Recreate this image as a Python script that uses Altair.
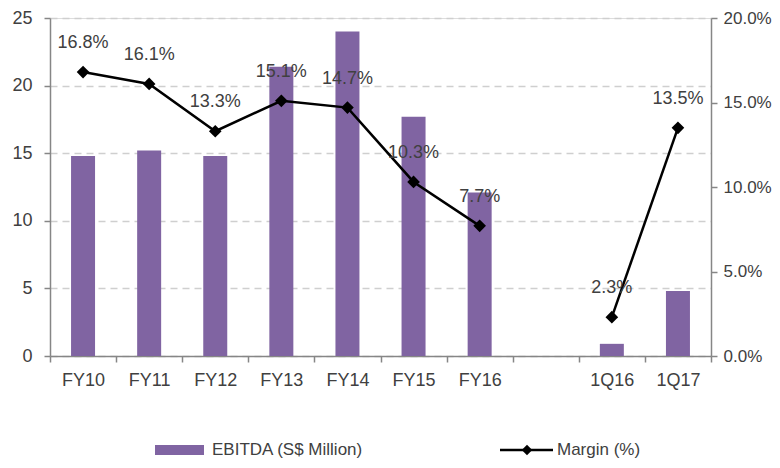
import altair as alt
import pandas as pd

categories = ["FY10", "FY11", "FY12", "FY13", "FY14", "FY15", "FY16", " ", "1Q16", "1Q17"]
periods = ["FY10", "FY11", "FY12", "FY13", "FY14", "FY15", "FY16", "1Q16", "1Q17"]
groups = ["FY", "FY", "FY", "FY", "FY", "FY", "FY", "Q", "Q"]
ebitda = [14.8, 15.2, 14.8, 21.4, 24.0, 17.7, 12.1, 0.9, 4.8]
margin_pct = [16.8, 16.1, 13.3, 15.1, 14.7, 10.3, 7.7, 2.3, 13.5]
left_ticks = [0, 5, 10, 15, 20, 25]
right_ticks = [0.0, 0.05, 0.10, 0.15, 0.20]

df = pd.DataFrame({
    "period": periods,
    "group": groups,
    "ebitda": ebitda,
    "margin": [m / 100 for m in margin_pct],
    "label": [f"{m:.1f}%" for m in margin_pct],
})

FONT = "Liberation Sans"
TXT = "#404040"
AX = "#868686"
W, H = 661, 338

xenc = alt.X(
    "period:N",
    scale=alt.Scale(domain=categories, paddingInner=0, paddingOuter=0),
    sort=categories,
    axis=alt.Axis(
        title=None, labelAngle=0, tickBand="extent",
        labelFont=FONT, labelFontSize=18, labelColor=TXT,
        domainColor=AX, tickColor=AX, tickSize=6, labelPadding=9,
        domainWidth=1.5, tickWidth=1.5,
    ),
)

bars = alt.Chart(df).mark_bar(size=24, color="#8064A2").encode(
    x=xenc,
    y=alt.Y(
        "ebitda:Q",
        scale=alt.Scale(domain=[0, 25], nice=False),
        axis=alt.Axis(
            title=None, values=left_ticks, grid=True, gridColor="#CFCFCF",
            gridDash=[7, 5], gridWidth=1.5, domainColor=AX, tickColor=AX,
            tickSize=6, domainWidth=1.5, tickWidth=1.5,
            labelFont=FONT, labelFontSize=18, labelColor=TXT, labelPadding=12,
        ),
    ),
)

yr = alt.Y(
    "margin:Q",
    scale=alt.Scale(domain=[0, 0.2], nice=False),
    axis=alt.Axis(
        title=None, orient="right", values=right_ticks, format=".1%",
        grid=False, domainColor=AX, tickColor=AX, tickSize=6,
        domainWidth=1.5, tickWidth=1.5,
        labelFont=FONT, labelFontSize=17, labelColor=TXT, labelPadding=6,
    ),
)

line = alt.Chart(df).mark_line(color="black", strokeWidth=2.5).encode(
    x=alt.X("period:N", sort=categories), y=yr, detail="group:N"
)
pts = alt.Chart(df).mark_point(
    shape="diamond", filled=True, color="black", size=160, opacity=1
).encode(x=alt.X("period:N", sort=categories), y=yr)
labels = alt.Chart(df).mark_text(
    dy=-29, font=FONT, fontSize=18, color=TXT
).encode(x=alt.X("period:N", sort=categories), y=yr, text="label:N")

one = pd.DataFrame({"a": [0]})
LY = 432
leg_rect = alt.Chart(one).mark_rect(color="#8064A2").encode(
    x=alt.value(105), x2=alt.value(154), y=alt.value(LY - 5), y2=alt.value(LY + 5)
)
leg_text1 = alt.Chart(one).mark_text(
    align="left", baseline="middle", font=FONT, fontSize=17, color=TXT
).encode(x=alt.value(162), y=alt.value(LY), text=alt.value("EBITDA (S$ Million)"))
leg_line = alt.Chart(one).mark_rule(color="black", strokeWidth=2.5).encode(
    x=alt.value(450), x2=alt.value(503), y=alt.value(LY)
)
leg_pt = alt.Chart(one).mark_point(
    shape="diamond", filled=True, color="black", size=110, opacity=1
).encode(x=alt.value(477), y=alt.value(LY))
leg_text2 = alt.Chart(one).mark_text(
    align="left", baseline="middle", font=FONT, fontSize=17, color=TXT
).encode(x=alt.value(507), y=alt.value(LY), text=alt.value("Margin (%)"))

right_layer = alt.layer(line, pts, labels)

chart = alt.layer(
    bars, right_layer, leg_rect, leg_text1, leg_line, leg_pt, leg_text2
).resolve_scale(y="independent").properties(
    width=W, height=H,
    autosize=alt.AutoSizeParams(type="none"),
    padding={"left": 42, "top": 10, "right": 61, "bottom": 104},
).configure_view(stroke=None).configure(background="white")

chart.save("out.html", embed_options={"renderer": "svg", "actions": False})
